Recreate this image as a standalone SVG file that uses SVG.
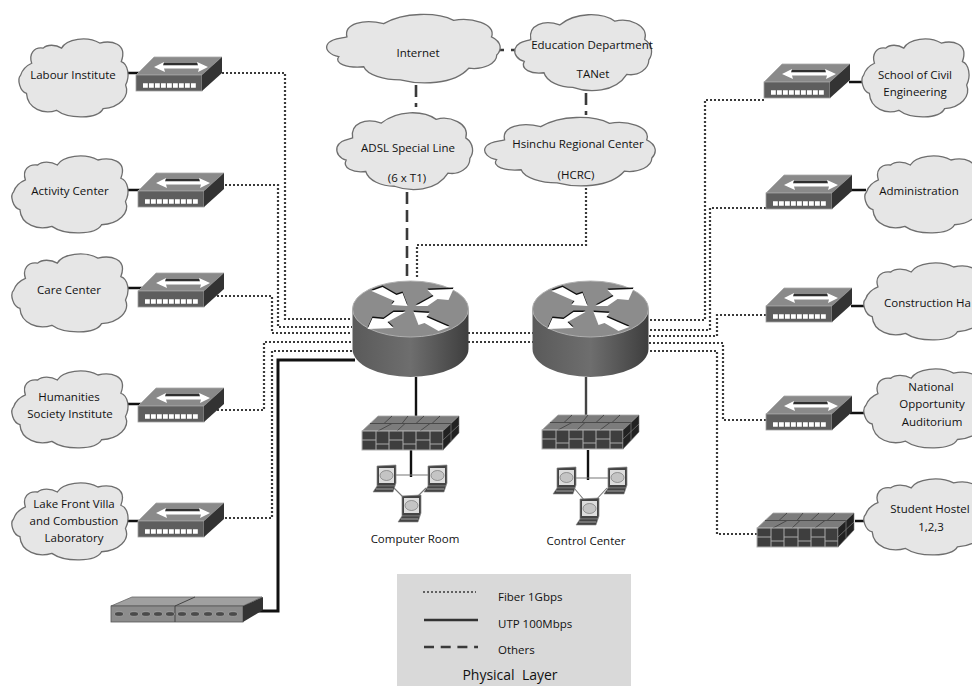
<svg xmlns="http://www.w3.org/2000/svg" xmlns:xlink="http://www.w3.org/1999/xlink" width="972" height="686" viewBox="0 0 972 686">
<style>
text{font-family:"Open Sans","Noto Sans","Liberation Sans",sans-serif;font-size:11.5px;fill:#111;text-anchor:middle;white-space:pre}
text.l{text-anchor:start}
text.b{font-size:14px}
.cl{fill:#e6e6e6;stroke:#6e6e6e;stroke-width:1.3;vector-effect:non-scaling-stroke}
.dot{fill:none;stroke:#3a3a3a;stroke-width:2.2;stroke-dasharray:2 2}
.dash{fill:none;stroke:#3a3a3a;stroke-width:2.6;stroke-dasharray:12 6}
.sol{fill:none;stroke:#111;stroke-width:2.4}
.thin{fill:none;stroke:#777;stroke-width:1.1}
</style>
<defs>
<linearGradient id="rg" x1="0" x2="1" y1="0" y2="0"><stop offset="0" stop-color="#5a5a5a"/><stop offset=".5" stop-color="#6e6e6e"/><stop offset="1" stop-color="#3e3e3e"/></linearGradient>
<path id="c1" class="cl" d="M10.800,32C8,20 13,11 21.500,12.800C25,8 33,8 38.500,12.800C43,1 62,-3 73.800,6.400C84,3 100,6 93.800,29.800C100,33 102,48 97.800,59.600C102,74 92,88 77,89.400C72,103 45,103 33.800,91.500C22,97 7,90 6,70C0,68 -3,52 0.600,47C2,41 6,35 10.800,32Z"/>
<path id="c2" class="cl" d="M0,45.500C1.900,36.400 7.600,36.400 11.400,34C9.500,16 21,9 32.400,16C43.800,0 62.900,0 72.400,11.400C82,6.800 97,16 94,34C100,41 100,52 97,59C97,70.500 89.500,79.500 81,77C72.400,100 53.300,100 41.900,93C32.400,93 22.900,86 21,75C11.400,77 3.800,70.500 6.700,61C1.900,59 -1,52 0,45.500Z"/>
<g id="sw">
<polygon points="18,0 86,0 66,18 0,18" fill="#8a8a8a" stroke="#a8a8a8" stroke-width=".8"/>
<rect x="0" y="18" width="66" height="16" fill="#5e5e5e" stroke="#a0a0a0" stroke-width=".8"/>
<polygon points="66,18 86,0 86,16 66,34" fill="#333"/>
<path d="M26,7H62" stroke="#111" stroke-width="1.5"/>
<polygon points="18,10 28,5 27,8.500 62,8.500 61,5 72,10 62,15 63,11.500 28,11.500 29,15" fill="#fff"/>
<path d="M7,28.500H60" stroke="#fff" stroke-width="4.500" stroke-dasharray="4.800 1.200"/>
</g>
<g id="rta">
<polygon transform="translate(-2,-1)" points="-37,-17 -26,-21 -12,-13 -6,-15 -1,-2 -17,-3 -14,-7"/>
<polygon transform="translate(2,-1)" points="3,-2 15,-2 25,-9 36,-8 41,-19 15,-18 21,-12"/>
<polygon transform="translate(-2,1)" points="-3,2 -15,2 -25,9 -36,8 -41,19 -15,18 -21,12"/>
<polygon transform="translate(2,1)" points="37,17 26,21 12,13 6,15 1,2 17,3 14,7"/>
</g>
<g id="rt">
<path d="M-58,0V40A58,28 0 0 0 58,40V0Z" fill="url(#rg)"/>
<ellipse cx="0" cy="0" rx="58" ry="28" fill="#8c8c8c" stroke="#b0b0b0" stroke-width="1"/>
<use xlink:href="#rta" href="#rta" y="-1.500" fill="#111"/>
<use xlink:href="#rta" href="#rta" fill="#fff"/>
</g>
<g id="fw">
<polygon points="16,0 97,0 81,15 0,15" fill="#7c7c7c" stroke="#aaa" stroke-width=".8"/>
<path d="M8,7.500H89M16,15L30,7.500M43,7.500L35,15M58,15L68,7.500M30,0L22,7.500M46,0L40,7.500M62,0L54,7.500M78,0L70,7.500" stroke="#4a4a4a" stroke-width="1" fill="none"/>
<rect x="0" y="15" width="81" height="19" fill="#3e3e3e" stroke="#b0b0b0" stroke-width="1"/>
<path d="M14,15V34M27,15V34M41,15V34M54,15V34M68,15V34M0,24H14M27,24H41M54,24H68M14,28H27M41,28H54M68,28H81" stroke="#aaa" stroke-width="1" fill="none"/>
<polygon points="81,15 97,0 97,17 81,34" fill="#222" stroke="#777" stroke-width=".6"/>
<path d="M89,8V25M81,24L97,9" stroke="#777" stroke-width=".8" fill="none"/>
</g>
<g id="lp">
<polygon points="4,1 23,0 23,18 22,21 4,21" fill="#444" stroke="#888" stroke-width=".7"/>
<rect x="6" y="3" width="15" height="15" fill="#ddd"/>
<ellipse cx="13.500" cy="10.500" rx="6.500" ry="5" fill="#c4c4c4" stroke="#777" stroke-width=".7"/>
<polygon points="4,21 22,21 20,27 0,27" fill="#444" stroke="#888" stroke-width=".6"/>
<path d="M3,24H20" stroke="#bbb" stroke-width=".8"/>
</g>
</defs>
<rect width="972" height="686" fill="#fff"/>

<g id="connectors">
<path class="dot" d="M222,73H285V319H352"/>
<path class="dot" d="M225,185H278V327H352"/>
<path class="dot" d="M217,296H272V333H352"/>
<path class="dot" d="M217,410H264V342H352"/>
<path class="dot" d="M225,518H272V351H352"/>
<path class="dot" d="M468,333H533M468,342H533"/>
<path class="dot" d="M764,100H705V320H649"/>
<path class="dot" d="M766,208H710V330H649"/>
<path class="dot" d="M766,315H717V336H649"/>
<path class="dot" d="M766,420H723V343H649"/>
<path class="dot" d="M757,534H717V351H649"/>
<path class="dot" d="M586,188V245H417V278"/>
<path class="dash" d="M416,85V107"/>
<path class="dash" d="M407,192V278"/>
<path class="dash" d="M498,50H517" style="stroke-dasharray:6 7"/>
<path class="dash" d="M586,93V115"/>
<path class="sol" d="M355,360H278V611H252" style="stroke-width:3"/>
<path class="sol" d="M128,73H142M128,190H142M128,288H142M128,404H142M128,521H142"/>
<path class="sol" d="M849,82H863M851,190H866M851,306H865M850,413H865M855,521H865"/>
<path class="sol" d="M416,377V416M411,450V477"/>
<path class="sol" d="M586,377V415" style="stroke:#444"/>
<path class="sol" d="M588,450V480"/>
<path class="thin" d="M396,475H428M394,488L404,498M426,488L416,498"/>
<path class="thin" d="M576,478H608M574,488L585,501M607,488L595,501"/>
</g>

<g id="cloud-labour"><use xlink:href="#c1" href="#c1" transform="translate(20,38) scale(1.08,.79)"/><text x="73" y="79">Labour Institute</text></g>
<g id="cloud-activity"><use xlink:href="#c1" href="#c1" transform="translate(13,155) scale(1.15,.78)"/><text x="70" y="195">Activity Center</text></g>
<g id="cloud-care"><use xlink:href="#c1" href="#c1" transform="translate(13,253) scale(1.15,.79)"/><text x="69" y="294">Care Center</text></g>
<g id="cloud-humanities"><use xlink:href="#c1" href="#c1" transform="translate(13,370) scale(1.15,.78)"/><text x="69" y="401">Humanities</text><text x="70" y="418">Society Institute</text></g>
<g id="cloud-lake"><use xlink:href="#c1" href="#c1" transform="translate(13,482) scale(1.15,.78)"/><text x="74" y="508">Lake Front Villa</text><text x="74" y="525">and Combustion</text><text x="74" y="542">Laboratory</text></g>
<g id="cloud-internet"><use xlink:href="#c2" href="#c2" transform="translate(327,12) scale(1.75,.73)"/><text x="418" y="57">Internet</text></g>
<g id="cloud-education"><use xlink:href="#c2" href="#c2" transform="translate(515,12) scale(1.38,.81)"/><text x="592" y="49">Education Department</text><text x="593" y="78">TANet</text></g>
<g id="cloud-adsl"><use xlink:href="#c2" href="#c2" transform="translate(337,110) scale(1.37,.82)"/><text x="408" y="152">ADSL Special Line</text><text x="407" y="182">(6 x T1)</text></g>
<g id="cloud-hsinchu"><use xlink:href="#c2" href="#c2" transform="translate(485,115) scale(1.72,.73)"/><text x="578" y="148">Hsinchu Regional Center</text><text x="576" y="179">(HCRC)</text></g>
<g id="cloud-school"><use xlink:href="#c1" href="#c1" transform="translate(863,38) scale(1.06,.79)"/><text x="915" y="79">School of Civil</text><text x="915" y="96">Engineering</text></g>
<g id="cloud-administration"><use xlink:href="#c1" href="#c1" transform="translate(866,155) scale(1.15,.78)"/><text x="919" y="195">Administration</text></g>
<g id="cloud-construction"><use xlink:href="#c1" href="#c1" transform="translate(865,262) scale(1.2,.78)"/><text class="l" x="884" y="307">Construction Ha</text></g>
<g id="cloud-national"><use xlink:href="#c1" href="#c1" transform="translate(865,368) scale(1.2,.8)"/><text x="931" y="391">National</text><text x="932" y="408">Opportunity</text><text x="932" y="426">Auditorium</text></g>
<g id="cloud-student"><use xlink:href="#c1" href="#c1" transform="translate(865,478) scale(1.2,.77)"/><text x="930" y="513">Student Hostel</text><text x="931" y="531">1,2,3</text></g>

<g id="switch-labour"><use xlink:href="#sw" href="#sw" x="136" y="57"/></g>
<g id="switch-activity"><use xlink:href="#sw" href="#sw" x="138" y="173"/></g>
<g id="switch-care"><use xlink:href="#sw" href="#sw" x="138" y="273"/></g>
<g id="switch-humanities"><use xlink:href="#sw" href="#sw" x="138" y="388"/></g>
<g id="switch-lake"><use xlink:href="#sw" href="#sw" x="138" y="503"/></g>
<g id="switch-school"><use xlink:href="#sw" href="#sw" x="764" y="64"/></g>
<g id="switch-administration"><use xlink:href="#sw" href="#sw" x="766" y="175"/></g>
<g id="switch-construction"><use xlink:href="#sw" href="#sw" x="766" y="288"/></g>
<g id="switch-national"><use xlink:href="#sw" href="#sw" x="766" y="396"/></g>

<g id="firewall-student"><use xlink:href="#fw" href="#fw" x="757" y="513"/></g>
<g id="firewall-left"><use xlink:href="#fw" href="#fw" x="362" y="416"/></g>
<g id="firewall-right"><use xlink:href="#fw" href="#fw" x="542" y="415"/></g>

<g id="router-left"><use xlink:href="#rt" href="#rt" x="410.500" y="309"/></g>
<g id="router-right"><use xlink:href="#rt" href="#rt" x="590.500" y="309"/></g>

<g id="room-computer">
<use xlink:href="#lp" href="#lp" x="373" y="465"/><use xlink:href="#lp" href="#lp" x="424" y="465"/><use xlink:href="#lp" href="#lp" x="398" y="495"/>
<text x="415" y="543">Computer Room</text>
</g>
<g id="room-control">
<use xlink:href="#lp" href="#lp" x="553" y="467"/><use xlink:href="#lp" href="#lp" x="604" y="467"/><use xlink:href="#lp" href="#lp" x="576" y="498"/>
<text x="586" y="545">Control Center</text>
</g>

<g id="hub">
<polygon points="111,606 132,597 262,597 243,606" fill="#a0a0a0" stroke="#666" stroke-width=".8"/>
<rect x="111" y="606" width="132" height="16" fill="#8c8c8c" stroke="#555" stroke-width=".8"/>
<polygon points="243,606 263,597 263,610 243,622" fill="#333"/>
<path d="M175,606V622M175,606L195,597" stroke="#444" fill="none"/>
<g fill="#4a4a4a" stroke="#bbb" stroke-width=".5">
<ellipse cx="119" cy="614" rx="4.500" ry="2.300"/><ellipse cx="134" cy="614" rx="4.500" ry="2.300"/><ellipse cx="146" cy="614" rx="4.500" ry="2.300"/><ellipse cx="158" cy="614" rx="4.500" ry="2.300"/><ellipse cx="170" cy="614" rx="4.500" ry="2.300"/><ellipse cx="182" cy="614" rx="4.500" ry="2.300"/><ellipse cx="195" cy="614" rx="4.500" ry="2.300"/><ellipse cx="208" cy="614" rx="4.500" ry="2.300"/><ellipse cx="220" cy="614" rx="4.500" ry="2.300"/><ellipse cx="233" cy="614" rx="4.500" ry="2.300"/>
</g>
</g>

<g id="legend">
<rect x="397" y="574" width="234" height="112" fill="#d9d9d9"/>
<path class="dot" d="M423,592H476" style="stroke-width:1.600"/>
<path class="sol" d="M424,620H478" style="stroke:#333"/>
<path class="dash" d="M424,647H478" style="stroke-dasharray:10 6.700"/>
<text class="l" x="498" y="601">Fiber 1Gbps</text>
<text class="l" x="498" y="628">UTP 100Mbps</text>
<text class="l" x="498" y="654">Others</text>
<text class="b" x="510" y="680">Physical  Layer</text>
</g>
</svg>
